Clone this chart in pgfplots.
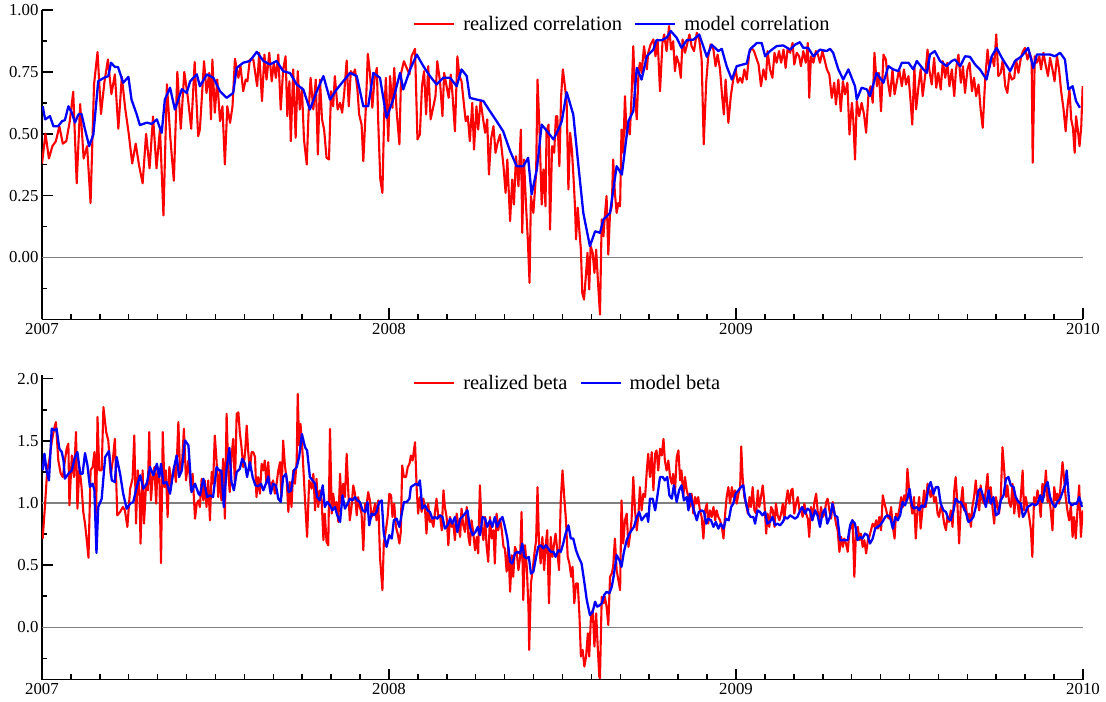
\documentclass[border=0pt]{standalone}
\usepackage{fontspec}
\setmainfont{Liberation Serif}
\usepackage{pgfplots}
\pgfplotsset{compat=1.18}
\pgfplotsset{
  panel/.style={
    scale only axis, width=1041bp,
    xmin=2007, xmax=2010, enlargelimits=false,
    axis x line=bottom, axis y line=left,
    axis line style={-, line width=1.6bp, black},
    tick align=inside, major tick length=11bp, minor tick length=5.5bp,
    tick style={black, line width=1.5bp},
    xtick={2007,2008,2009,2010}, xticklabels={2007,2008,2009,2010},
    minor x tick num=11,
    ticklabel style={font=\fontsize{16.8bp}{18bp}\selectfont},
    legend columns=2,
    legend cell align=left,
    legend image code/.code={\draw[#1] (0bp,0bp) -- (40bp,0bp); \path (48bp,0bp);},
    legend style={draw=none, fill=none, anchor=west, inner sep=0pt,
      nodes={inner sep=0pt},
      font=\fontsize{20.5bp}{22bp}\selectfont,
      /tikz/every even column/.append style={column sep=12bp}},
  },
  rl/.style={red, line width=2.1bp, line join=round},
  bl/.style={blue, line width=2.3bp, line join=round},
  zl/.style={black!50, line width=1.5bp, forget plot},
}
\begin{document}
\begin{tikzpicture}
\useasboundingbox (-42bp,10bp) rectangle (1064bp,-692bp);
\begin{axis}[panel, at={(0bp,0bp)}, anchor=north west, height=309.4bp,
  ymin=-0.25, ymax=1,
  ytick={0,0.25,0.5,0.75,1}, yticklabels={0.00,0.25,0.50,0.75,1.00},
  minor ytick={-0.125,0.125,0.375,0.625,0.875},
  legend style={at={(0.3564,0.9548)}}]
\addplot[zl] coordinates {(2007,0) (2010,0)};
\addplot[rl] coordinates {
(2007.00,0.38)(2007.01,0.50)(2007.02,0.40)(2007.03,0.45)(2007.04,0.47)(2007.05,0.53)(2007.06,0.46)(2007.07,0.47)(2007.08,0.55)(2007.09,0.67)(2007.10,0.30)(2007.11,0.62)(2007.12,0.40)(2007.13,0.45)(2007.14,0.22)(2007.15,0.70)(2007.16,0.83)(2007.17,0.58)(2007.18,0.71)(2007.19,0.80)(2007.20,0.66)(2007.21,0.74)(2007.22,0.52)(2007.23,0.73)(2007.24,0.60)(2007.25,0.50)(2007.26,0.38)(2007.27,0.46)(2007.28,0.37)(2007.29,0.30)(2007.30,0.50)(2007.31,0.36)(2007.32,0.57)(2007.33,0.36)(2007.34,0.52)(2007.35,0.17)(2007.36,0.70)(2007.37,0.48)(2007.38,0.31)(2007.39,0.75)(2007.40,0.52)(2007.41,0.75)(2007.42,0.65)(2007.43,0.52)(2007.44,0.79)(2007.45,0.49)
(2007.455,0.517)(2007.467,0.793)(2007.474,0.665)(2007.482,0.746)(2007.487,0.558)(2007.491,0.800)(2007.498,0.585)(2007.505,0.719)(2007.513,0.551)(2007.520,0.611)(2007.527,0.376)(2007.534,0.611)(2007.542,0.544)(2007.549,0.611)(2007.556,0.803)(2007.566,0.726)(2007.572,0.773)(2007.580,0.672)(2007.587,0.719)(2007.592,0.712)(2007.599,0.800)(2007.609,0.800)(2007.620,0.692)(2007.626,0.827)(2007.634,0.632)(2007.641,0.820)(2007.647,0.719)(2007.655,0.827)(2007.662,0.712)(2007.668,0.787)(2007.674,0.726)(2007.681,0.820)(2007.688,0.598)(2007.695,0.760)(2007.702,0.813)(2007.707,0.571)(2007.713,0.712)(2007.717,0.470)(2007.724,0.760)(2007.731,0.484)(2007.737,0.753)(2007.743,0.598)(2007.749,0.686)(2007.755,0.477)(2007.763,0.376)(2007.768,0.578)(2007.774,0.726)(2007.782,0.598)(2007.789,0.719)(2007.795,0.416)(2007.801,0.719)(2007.807,0.558)(2007.813,0.517)(2007.820,0.403)(2007.827,0.396)(2007.833,0.672)(2007.839,0.611)(2007.844,0.733)(2007.852,0.598)(2007.859,0.625)(2007.865,0.585)(2007.871,0.665)(2007.878,0.796)(2007.884,0.611)(2007.890,0.753)(2007.897,0.739)(2007.902,0.760)(2007.909,0.679)(2007.914,0.578)(2007.921,0.537)(2007.926,0.389)(2007.933,0.598)(2007.939,0.823)(2007.945,0.746)(2007.952,0.605)(2007.958,0.719)(2007.965,0.766)(2007.969,0.544)(2007.975,0.315)(2007.981,0.261)(2007.986,0.571)(2007.991,0.726)(2007.998,0.470)(2008.003,0.733)(2008.010,0.605)(2008.015,0.766)(2008.022,0.591)(2008.030,0.457)(2008.035,0.746)(2008.043,0.793)(2008.051,0.766)(2008.059,0.740)(2008.065,0.813)(2008.075,0.843)(2008.082,0.477)(2008.089,0.497)(2008.095,0.692)(2008.101,0.753)(2008.107,0.578)(2008.113,0.773)(2008.120,0.558)(2008.128,0.611)(2008.134,0.652)(2008.139,0.793)(2008.147,0.712)(2008.154,0.571)(2008.159,0.746)(2008.166,0.692)(2008.172,0.645)(2008.178,0.739)(2008.183,0.659)(2008.190,0.510)(2008.197,0.813)(2008.203,0.733)(2008.209,0.712)(2008.214,0.645)(2008.221,0.551)(2008.227,0.571)(2008.233,0.470)(2008.240,0.625)(2008.245,0.436)(2008.252,0.611)(2008.257,0.517)(2008.264,0.632)(2008.270,0.571)(2008.277,0.504)(2008.283,0.558)(2008.288,0.335)(2008.294,0.477)(2008.301,0.531)(2008.307,0.423)(2008.313,0.463)(2008.320,0.497)(2008.325,0.436)(2008.330,0.369)(2008.336,0.261)(2008.341,0.396)(2008.349,0.147)(2008.355,0.315)(2008.360,0.214)(2008.366,0.409)(2008.373,0.288)(2008.380,0.517)(2008.384,0.100)(2008.389,0.396)(2008.395,0.207)(2008.400,0.073)(2008.405,-0.102)(2008.409,0.248)(2008.416,0.180)(2008.424,0.342)(2008.428,0.719)(2008.433,0.544)(2008.440,0.214)(2008.445,0.356)(2008.451,0.207)(2008.454,0.510)(2008.460,0.537)(2008.464,0.113)(2008.470,0.450)(2008.476,0.423)(2008.481,0.571)(2008.485,0.571)(2008.491,0.369)(2008.496,0.652)(2008.501,0.760)(2008.507,0.692)(2008.512,0.625)(2008.517,0.275)(2008.522,0.504)(2008.527,0.436)(2008.531,0.342)(2008.536,0.207)(2008.539,0.073)(2008.544,0.201)(2008.549,0.100)(2008.553,0.032)(2008.557,-0.143)(2008.562,-0.170)(2008.568,-0.062)(2008.572,0.019)(2008.577,-0.129)(2008.581,0.046)(2008.587,0.019)(2008.592,-0.062)(2008.597,0.032)(2008.603,-0.116)(2008.608,-0.230)
(2008.613,0.154)(2008.618,0.086)(2008.622,0.167)(2008.627,0.248)(2008.632,0.012)(2008.637,0.180)(2008.642,0.207)(2008.646,0.396)(2008.651,0.261)(2008.656,0.180)(2008.661,0.221)(2008.666,0.207)(2008.670,0.517)(2008.675,0.423)(2008.680,0.652)(2008.685,0.490)(2008.690,0.544)(2008.694,0.497)(2008.699,0.652)(2008.704,0.854)(2008.709,0.652)(2008.714,0.558)(2008.719,0.746)(2008.723,0.787)(2008.728,0.746)(2008.735,0.854)(2008.743,0.760)(2008.747,0.827)(2008.754,0.861)(2008.762,0.881)(2008.768,0.813)(2008.774,0.881)(2008.781,0.672)(2008.788,0.867)(2008.793,0.901)(2008.800,0.834)(2008.807,0.935)(2008.813,0.840)(2008.819,0.874)(2008.824,0.753)(2008.829,0.813)(2008.836,0.780)(2008.841,0.726)(2008.846,0.881)(2008.853,0.827)(2008.860,0.867)(2008.866,0.901)(2008.872,0.854)(2008.879,0.834)(2008.887,0.908)(2008.894,0.881)(2008.901,0.800)(2008.907,0.457)(2008.914,0.706)(2008.920,0.813)(2008.927,0.861)(2008.935,0.840)(2008.941,0.773)(2008.947,0.820)(2008.954,0.760)(2008.960,0.652)(2008.965,0.578)(2008.970,0.719)(2008.978,0.544)(2008.985,0.652)(2008.992,0.719)(2008.999,0.760)(2009.005,0.706)(2009.012,0.726)(2009.018,0.706)(2009.024,0.760)(2009.031,0.719)(2009.038,0.827)(2009.045,0.847)(2009.052,0.834)(2009.060,0.800)(2009.065,0.780)(2009.072,0.692)(2009.079,0.760)(2009.086,0.719)(2009.091,0.834)(2009.098,0.760)(2009.105,0.726)(2009.111,0.827)(2009.117,0.787)(2009.124,0.834)(2009.130,0.787)(2009.137,0.840)(2009.143,0.766)(2009.149,0.847)(2009.156,0.827)(2009.163,0.867)(2009.168,0.780)(2009.175,0.827)(2009.182,0.813)(2009.187,0.773)(2009.194,0.834)(2009.201,0.787)(2009.207,0.867)(2009.211,0.645)(2009.216,0.813)(2009.223,0.787)(2009.230,0.834)(2009.236,0.820)(2009.242,0.787)(2009.249,0.834)(2009.255,0.800)(2009.262,0.760)(2009.269,0.739)(2009.276,0.645)(2009.283,0.706)(2009.288,0.618)(2009.295,0.719)(2009.302,0.591)(2009.308,0.712)(2009.314,0.659)(2009.321,0.706)(2009.327,0.497)(2009.334,0.625)(2009.338,0.558)(2009.343,0.396)(2009.348,0.632)(2009.355,0.571)(2009.362,0.625)(2009.369,0.578)(2009.375,0.504)(2009.382,0.665)(2009.388,0.692)(2009.394,0.625)(2009.399,0.827)(2009.406,0.692)(2009.412,0.746)(2009.418,0.591)(2009.425,0.820)(2009.432,0.800)(2009.437,0.719)(2009.444,0.652)(2009.451,0.760)(2009.457,0.659)(2009.463,0.706)(2009.470,0.760)(2009.478,0.692)(2009.484,0.760)(2009.490,0.699)(2009.497,0.733)(2009.502,0.652)(2009.508,0.537)(2009.514,0.773)(2009.519,0.598)(2009.526,0.692)(2009.532,0.760)(2009.538,0.652)(2009.545,0.733)(2009.552,0.840)(2009.557,0.760)(2009.564,0.699)(2009.571,0.807)(2009.577,0.686)(2009.583,0.746)(2009.590,0.679)(2009.596,0.793)(2009.603,0.726)(2009.609,0.787)(2009.615,0.692)(2009.622,0.760)(2009.629,0.652)(2009.634,0.760)(2009.641,0.820)(2009.648,0.706)(2009.654,0.773)(2009.660,0.665)(2009.667,0.760)(2009.673,0.787)(2009.680,0.672)(2009.686,0.726)(2009.692,0.652)(2009.699,0.699)(2009.705,0.598)(2009.711,0.524)(2009.718,0.719)(2009.725,0.840)(2009.730,0.766)(2009.737,0.813)(2009.744,0.773)(2009.750,0.901)(2009.756,0.733)(2009.763,0.746)(2009.769,0.800)(2009.776,0.692)(2009.782,0.665)(2009.788,0.746)(2009.795,0.719)(2009.802,0.726)(2009.807,0.800)(2009.814,0.746)(2009.821,0.807)(2009.827,0.834)(2009.833,0.847)(2009.840,0.800)(2009.846,0.827)(2009.852,0.800)(2009.855,0.383)(2009.861,0.813)(2009.867,0.787)(2009.874,0.813)(2009.879,0.760)(2009.886,0.827)(2009.893,0.773)(2009.899,0.733)(2009.905,0.807)(2009.912,0.760)(2009.918,0.712)(2009.925,0.813)(2009.931,0.760)(2009.937,0.672)(2009.944,0.598)(2009.950,0.510)(2009.955,0.605)(2009.961,0.679)(2009.966,0.558)(2009.971,0.524)(2009.976,0.423)(2009.980,0.571)(2009.985,0.517)(2009.990,0.450)(2009.995,0.531)(2009.999,0.692)
};
\addlegendentry{realized correlation}
\addplot[bl] coordinates {
(2007.002,0.611)(2007.009,0.558)(2007.023,0.571)(2007.033,0.530)(2007.046,0.530)(2007.058,0.551)(2007.066,0.555)(2007.076,0.611)(2007.086,0.585)(2007.095,0.545)(2007.105,0.578)(2007.114,0.580)(2007.124,0.517)(2007.136,0.450)(2007.148,0.497)(2007.162,0.712)(2007.177,0.725)(2007.191,0.733)(2007.199,0.787)(2007.210,0.770)(2007.219,0.770)(2007.234,0.706)(2007.249,0.730)(2007.258,0.638)(2007.273,0.578)(2007.282,0.535)(2007.302,0.545)(2007.316,0.540)(2007.331,0.558)(2007.345,0.504)(2007.354,0.638)(2007.369,0.686)(2007.383,0.598)(2007.403,0.680)(2007.417,0.665)(2007.427,0.712)(2007.446,0.740)(2007.455,0.692)(2007.475,0.740)(2007.494,0.726)(2007.513,0.672)(2007.532,0.645)(2007.551,0.665)(2007.561,0.766)(2007.580,0.787)(2007.599,0.794)(2007.619,0.831)(2007.638,0.794)(2007.657,0.780)(2007.676,0.794)(2007.695,0.753)(2007.715,0.745)(2007.734,0.699)(2007.753,0.679)(2007.772,0.598)(2007.792,0.672)(2007.811,0.733)(2007.830,0.638)(2007.849,0.679)(2007.868,0.712)(2007.888,0.746)(2007.907,0.733)(2007.926,0.611)(2007.940,0.611)(2007.955,0.746)(2007.974,0.726)(2007.993,0.564)(2008.012,0.638)(2008.032,0.746)(2008.041,0.679)(2008.061,0.760)(2008.080,0.820)(2008.099,0.773)(2008.118,0.733)(2008.137,0.699)(2008.156,0.726)(2008.176,0.726)(2008.195,0.692)(2008.209,0.760)(2008.224,0.733)(2008.233,0.645)(2008.253,0.638)(2008.272,0.632)(2008.291,0.591)(2008.310,0.551)(2008.329,0.510)(2008.349,0.430)(2008.368,0.369)(2008.387,0.369)(2008.401,0.403)(2008.411,0.255)(2008.426,0.356)(2008.440,0.537)(2008.459,0.504)(2008.474,0.477)(2008.488,0.517)(2008.498,0.551)(2008.512,0.668)(2008.531,0.578)(2008.546,0.369)(2008.560,0.180)(2008.579,0.046)(2008.594,0.106)(2008.608,0.100)(2008.618,0.154)(2008.637,0.180)(2008.656,0.369)(2008.671,0.335)(2008.680,0.436)(2008.690,0.551)(2008.704,0.591)(2008.714,0.766)(2008.728,0.719)(2008.743,0.813)(2008.762,0.840)(2008.771,0.878)(2008.786,0.878)(2008.800,0.888)(2008.812,0.915)(2008.829,0.888)(2008.843,0.847)(2008.858,0.878)(2008.877,0.880)(2008.894,0.901)(2008.916,0.811)(2008.930,0.860)(2008.949,0.834)(2008.959,0.843)(2008.973,0.773)(2008.988,0.719)(2009.002,0.773)(2009.031,0.784)(2009.040,0.840)(2009.060,0.867)(2009.074,0.867)(2009.084,0.813)(2009.098,0.834)(2009.117,0.854)(2009.136,0.857)(2009.156,0.840)(2009.170,0.860)(2009.184,0.870)(2009.194,0.847)(2009.208,0.847)(2009.223,0.813)(2009.242,0.840)(2009.261,0.834)(2009.271,0.843)(2009.280,0.827)(2009.295,0.760)(2009.309,0.719)(2009.324,0.760)(2009.343,0.692)(2009.348,0.638)(2009.362,0.686)(2009.377,0.679)(2009.386,0.652)(2009.405,0.746)(2009.425,0.706)(2009.439,0.773)(2009.453,0.760)(2009.468,0.753)(2009.478,0.787)(2009.497,0.787)(2009.511,0.760)(2009.521,0.794)(2009.540,0.760)(2009.550,0.746)(2009.559,0.820)(2009.573,0.834)(2009.588,0.794)(2009.607,0.773)(2009.622,0.794)(2009.631,0.800)(2009.646,0.773)(2009.660,0.813)(2009.674,0.811)(2009.689,0.780)(2009.703,0.760)(2009.722,0.719)(2009.737,0.813)(2009.751,0.847)(2009.766,0.807)(2009.790,0.753)(2009.804,0.794)(2009.823,0.813)(2009.842,0.847)(2009.857,0.766)(2009.867,0.820)(2009.886,0.820)(2009.905,0.820)(2009.919,0.813)(2009.934,0.827)(2009.948,0.800)(2009.958,0.679)(2009.970,0.692)(2009.980,0.632)(2009.991,0.605)
};
\addlegendentry{model correlation}
\end{axis}
\begin{axis}[panel, at={(0bp,-365bp)}, anchor=north west, height=304.5bp,
  ymin=-0.42, ymax=2.03,
  ytick={0,0.5,1,1.5,2}, yticklabels={0.0,0.5,1.0,1.5,2.0},
  minor ytick={-0.25,0.25,0.75,1.25,1.75},
  legend style={at={(0.3564,0.9727)}}]
\addplot[zl] coordinates {(2007,0) (2010,0)};
\addplot[zl] coordinates {(2007,1) (2010,1)};
\addplot[rl] coordinates {
(2007.002,0.713)(2007.009,0.995)(2007.015,1.263)(2007.021,1.343)(2007.028,1.491)(2007.035,1.598)(2007.040,1.651)(2007.047,1.343)(2007.054,1.236)(2007.060,1.209)(2007.066,1.343)(2007.071,1.437)(2007.076,1.477)(2007.079,0.981)(2007.086,1.383)(2007.092,1.209)(2007.098,1.571)(2007.102,0.954)(2007.108,1.290)(2007.114,1.129)(2007.119,0.928)(2007.124,0.834)(2007.129,0.700)(2007.134,0.560)(2007.140,1.263)(2007.146,1.290)(2007.151,1.410)(2007.156,0.914)(2007.160,1.692)(2007.165,1.263)(2007.172,1.263)(2007.177,1.772)(2007.185,1.571)(2007.191,1.504)(2007.198,1.223)(2007.204,1.343)(2007.210,1.517)(2007.217,0.901)(2007.225,0.928)(2007.233,0.968)(2007.239,0.941)(2007.246,0.807)(2007.254,1.115)(2007.261,1.196)(2007.266,1.544)(2007.271,0.834)(2007.276,1.263)(2007.281,1.075)(2007.284,0.673)(2007.290,1.263)(2007.294,0.834)(2007.300,1.156)(2007.305,1.102)(2007.309,1.571)(2007.314,1.021)(2007.319,1.209)(2007.324,1.290)(2007.329,0.995)(2007.333,1.290)(2007.338,1.263)(2007.343,0.517)(2007.348,1.571)(2007.353,1.129)(2007.357,1.263)(2007.362,0.887)(2007.367,1.290)(2007.372,1.156)(2007.377,1.236)(2007.381,1.290)(2007.386,1.169)(2007.393,1.651)(2007.398,1.236)(2007.404,1.343)(2007.409,1.598)(2007.415,1.182)(2007.422,1.343)(2007.429,1.102)(2007.434,1.236)(2007.441,0.874)(2007.446,0.995)(2007.451,1.021)
(2007.455,0.968)(2007.460,1.195)(2007.465,1.021)(2007.469,1.182)(2007.474,0.968)(2007.479,1.182)(2007.484,0.861)(2007.489,1.249)(2007.493,1.155)(2007.498,1.543)(2007.503,1.342)(2007.508,1.048)(2007.513,1.262)(2007.517,1.021)(2007.522,1.356)(2007.527,0.874)(2007.532,1.717)(2007.537,1.235)(2007.541,1.088)(2007.546,1.369)(2007.551,1.516)(2007.556,1.142)(2007.561,1.717)(2007.566,1.730)(2007.570,1.570)(2007.575,1.449)(2007.580,1.289)(2007.585,1.396)(2007.590,1.623)(2007.594,1.423)(2007.599,1.262)(2007.604,1.409)(2007.609,1.409)(2007.614,1.369)(2007.618,1.048)(2007.623,1.209)(2007.628,1.075)(2007.633,1.316)(2007.638,1.262)(2007.642,1.342)(2007.647,1.155)(2007.652,1.329)(2007.657,1.102)(2007.662,1.155)(2007.666,1.182)(2007.671,1.075)(2007.676,1.155)(2007.681,1.262)(2007.686,1.329)(2007.690,1.048)(2007.695,1.503)(2007.700,1.302)(2007.705,1.195)(2007.710,0.928)(2007.714,1.169)(2007.719,0.968)(2007.724,1.262)(2007.729,1.155)(2007.734,1.342)(2007.737,1.877)(2007.741,1.463)(2007.745,1.637)(2007.751,1.396)(2007.758,1.021)(2007.764,0.727)(2007.770,1.182)(2007.777,1.115)(2007.782,1.235)(2007.787,0.941)(2007.791,1.195)(2007.796,0.968)(2007.801,1.102)(2007.806,1.021)(2007.811,0.701)(2007.815,0.915)(2007.820,0.687)(2007.825,0.660)(2007.830,1.596)(2007.835,0.915)(2007.839,1.075)(2007.844,0.968)(2007.849,1.008)(2007.854,0.848)(2007.859,1.235)(2007.863,0.995)(2007.868,1.155)(2007.873,1.048)(2007.878,1.396)(2007.883,1.075)(2007.887,0.861)(2007.892,0.968)(2007.897,1.142)(2007.902,1.075)(2007.907,0.901)(2007.911,1.048)(2007.916,0.968)(2007.921,0.915)(2007.926,0.620)(2007.931,0.995)(2007.936,0.995)(2007.940,1.088)(2007.945,1.021)(2007.950,0.888)(2007.955,0.928)(2007.960,0.995)(2007.964,0.861)(2007.969,1.021)(2007.974,0.567)(2007.981,0.299)(2007.985,0.674)(2007.991,0.781)(2007.996,0.888)(2008.001,1.075)(2008.006,1.062)(2008.010,0.888)(2008.015,0.995)(2008.020,0.808)(2008.025,0.754)(2008.030,0.674)(2008.034,0.767)(2008.038,1.302)(2008.043,1.209)(2008.049,1.209)(2008.054,1.289)(2008.059,1.316)(2008.063,1.382)(2008.068,1.342)(2008.075,1.489)(2008.080,1.102)(2008.084,0.915)(2008.089,1.048)(2008.094,0.928)(2008.099,1.035)(2008.104,0.941)(2008.108,0.754)(2008.113,0.995)(2008.118,0.848)(2008.123,0.861)(2008.128,0.808)(2008.133,0.941)(2008.137,1.035)(2008.142,0.888)(2008.147,0.901)(2008.152,0.781)(2008.157,1.102)(2008.161,0.968)(2008.166,0.888)(2008.171,0.660)(2008.176,0.888)(2008.181,0.808)(2008.185,0.848)(2008.190,0.701)(2008.195,0.915)(2008.200,0.821)(2008.205,0.727)(2008.209,0.955)(2008.214,0.821)(2008.219,0.767)(2008.224,0.968)(2008.229,0.727)(2008.233,0.660)(2008.238,0.861)(2008.243,0.754)(2008.248,0.620)(2008.253,0.727)(2008.257,0.594)(2008.262,1.142)(2008.267,0.808)(2008.272,0.701)(2008.277,0.888)(2008.281,0.660)(2008.286,0.527)(2008.291,0.888)(2008.296,0.714)(2008.301,0.781)(2008.305,0.513)(2008.310,0.915)(2008.315,0.781)(2008.320,0.874)(2008.325,0.781)(2008.330,0.647)(2008.334,0.634)(2008.339,0.447)(2008.344,0.647)(2008.349,0.286)(2008.354,0.580)(2008.358,0.406)(2008.363,0.647)(2008.368,0.607)(2008.373,0.460)(2008.378,0.567)(2008.382,0.928)(2008.387,0.219)(2008.392,0.660)(2008.397,0.487)(2008.402,0.152)(2008.404,-0.182)(2008.409,0.353)(2008.414,0.460)(2008.419,0.594)(2008.424,0.701)(2008.428,1.128)(2008.432,0.701)(2008.437,0.513)(2008.442,0.727)(2008.447,0.460)(2008.452,0.674)(2008.456,0.781)(2008.461,0.193)(2008.466,0.727)(2008.471,0.567)(2008.476,0.674)(2008.480,0.754)(2008.485,0.620)(2008.490,0.460)(2008.495,1.021)(2008.500,1.262)(2008.505,1.048)(2008.510,0.861)(2008.515,0.567)(2008.520,0.513)(2008.525,0.406)(2008.529,0.487)(2008.534,0.193)(2008.539,0.353)(2008.544,0.353)(2008.549,0.086)(2008.553,-0.235)(2008.558,-0.182)(2008.563,-0.316)(2008.568,-0.235)(2008.573,-0.048)(2008.577,-0.235)(2008.582,0.086)(2008.587,0.139)(2008.592,-0.155)(2008.597,0.112)(2008.601,-0.128)(2008.606,-0.396)
(2008.608,-0.410)(2008.613,0.246)(2008.618,0.193)(2008.622,0.246)(2008.627,0.166)(2008.632,0.019)(2008.637,0.406)(2008.642,0.433)(2008.646,0.487)(2008.651,0.714)(2008.656,0.460)(2008.661,0.380)(2008.666,0.299)(2008.670,1.021)(2008.675,0.674)(2008.680,0.861)(2008.685,0.915)(2008.690,0.647)(2008.694,0.727)(2008.699,0.861)(2008.704,1.209)(2008.709,0.941)(2008.714,0.781)(2008.719,0.915)(2008.723,1.128)(2008.728,0.941)(2008.733,1.075)(2008.738,1.048)(2008.743,1.262)(2008.747,1.396)(2008.752,1.209)(2008.757,1.409)(2008.762,1.102)(2008.767,1.396)(2008.771,1.423)(2008.776,1.262)(2008.781,1.436)(2008.786,1.382)(2008.791,1.516)(2008.795,1.342)(2008.800,1.262)(2008.805,1.342)(2008.810,1.209)(2008.815,1.155)(2008.819,1.235)(2008.824,1.075)(2008.829,1.369)(2008.834,1.423)(2008.839,1.182)(2008.843,1.262)(2008.848,1.048)(2008.853,1.209)(2008.858,1.102)(2008.863,1.048)(2008.867,0.968)(2008.872,1.075)(2008.877,0.915)(2008.882,1.048)(2008.887,0.995)(2008.891,1.048)(2008.896,0.941)(2008.901,0.888)(2008.906,0.714)(2008.911,0.941)(2008.916,0.995)(2008.920,0.834)(2008.925,0.941)(2008.930,0.888)(2008.935,0.968)(2008.940,0.861)(2008.944,0.941)(2008.949,0.888)(2008.954,0.861)(2008.959,0.808)(2008.964,0.714)(2008.968,0.888)(2008.973,1.048)(2008.978,1.128)(2008.983,0.995)(2008.988,1.128)(2008.992,1.048)(2008.997,1.102)(2009.002,0.995)(2009.007,1.075)(2009.012,1.128)(2009.015,1.455)(2009.019,1.209)(2009.024,1.048)(2009.029,0.995)(2009.034,0.915)(2009.039,1.048)(2009.043,0.968)(2009.048,1.128)(2009.053,0.941)(2009.058,0.915)(2009.063,1.102)(2009.067,0.968)(2009.072,1.048)(2009.077,1.142)(2009.082,0.995)(2009.087,0.754)(2009.091,0.915)(2009.096,0.808)(2009.101,0.968)(2009.106,0.941)(2009.111,0.808)(2009.115,0.995)(2009.120,0.901)(2009.125,0.861)(2009.130,0.915)(2009.135,0.995)(2009.139,0.861)(2009.144,1.008)(2009.149,1.102)(2009.154,0.995)(2009.159,1.102)(2009.163,1.115)(2009.168,0.915)(2009.173,0.995)(2009.178,1.048)(2009.183,0.941)(2009.187,0.955)(2009.192,0.888)(2009.197,0.995)(2009.202,0.915)(2009.207,0.874)(2009.211,0.727)(2009.216,0.968)(2009.221,0.874)(2009.226,1.008)(2009.231,1.075)(2009.236,0.915)(2009.240,0.861)(2009.245,0.968)(2009.250,0.888)(2009.255,0.915)(2009.260,1.008)(2009.264,1.035)(2009.269,0.941)(2009.274,0.874)(2009.279,1.008)(2009.284,0.915)(2009.288,0.834)(2009.293,0.781)(2009.298,0.607)(2009.303,0.727)(2009.308,0.647)(2009.312,0.714)(2009.317,0.674)(2009.322,0.607)(2009.327,0.781)(2009.332,0.808)(2009.336,0.861)(2009.341,0.406)(2009.346,0.781)(2009.351,0.808)(2009.356,0.701)(2009.360,0.754)(2009.365,0.647)(2009.370,0.701)(2009.375,0.594)(2009.380,0.701)(2009.384,0.727)(2009.389,0.781)(2009.394,0.834)(2009.399,0.808)(2009.404,0.861)(2009.409,0.794)(2009.413,0.888)(2009.418,0.781)(2009.423,1.062)(2009.428,0.995)(2009.433,0.941)(2009.437,0.888)(2009.442,0.874)(2009.447,0.968)(2009.452,0.808)(2009.457,0.714)(2009.461,0.915)(2009.466,0.888)(2009.471,0.955)(2009.476,1.048)(2009.481,0.968)(2009.485,1.062)(2009.490,1.021)(2009.494,1.275)(2009.499,1.102)(2009.504,0.995)(2009.508,0.915)(2009.513,1.048)(2009.518,0.714)(2009.523,0.941)(2009.528,1.048)(2009.532,0.794)(2009.537,0.941)(2009.542,1.102)(2009.547,0.968)(2009.552,1.155)(2009.557,1.102)(2009.561,1.048)(2009.566,1.128)(2009.571,1.008)(2009.576,1.048)(2009.581,0.915)(2009.585,0.888)(2009.590,0.968)(2009.595,0.928)(2009.600,0.834)(2009.605,0.781)(2009.609,0.888)(2009.614,0.848)(2009.619,0.941)(2009.624,0.808)(2009.629,1.102)(2009.633,1.209)(2009.638,0.995)(2009.643,0.674)(2009.648,0.995)(2009.653,1.128)(2009.657,0.941)(2009.662,0.995)(2009.667,0.861)(2009.672,0.915)(2009.677,0.808)(2009.681,0.968)(2009.686,1.048)(2009.691,1.182)(2009.696,1.021)(2009.701,0.941)(2009.705,1.142)(2009.710,1.021)(2009.715,0.995)(2009.720,1.102)(2009.725,1.235)(2009.729,1.008)(2009.734,1.128)(2009.739,0.968)(2009.744,0.834)(2009.749,1.048)(2009.754,0.968)(2009.758,0.915)(2009.763,1.048)(2009.768,1.449)(2009.773,1.262)(2009.778,1.048)(2009.782,1.142)(2009.787,1.008)(2009.792,0.968)(2009.797,1.155)(2009.802,0.915)(2009.806,1.048)(2009.811,1.008)(2009.816,0.888)(2009.821,1.062)(2009.826,1.262)(2009.830,0.941)(2009.835,1.048)(2009.840,0.968)(2009.845,0.888)(2009.850,0.781)(2009.854,0.567)(2009.859,1.048)(2009.864,0.995)(2009.869,1.102)(2009.874,1.021)(2009.878,0.888)(2009.883,1.155)(2009.888,1.048)(2009.893,1.262)(2009.898,1.008)(2009.902,1.075)(2009.907,0.941)(2009.912,0.781)(2009.917,1.128)(2009.922,1.021)(2009.926,1.075)(2009.931,0.995)(2009.936,1.155)(2009.941,1.329)(2009.946,1.182)(2009.950,1.048)(2009.955,0.941)(2009.960,0.861)(2009.965,0.981)(2009.970,0.727)(2009.974,0.888)(2009.979,0.714)(2009.984,0.941)(2009.989,1.142)(2009.994,0.727)(2009.999,0.941)
};
\addlegendentry{realized beta}
\addplot[bl] coordinates {
(2007.002,1.263)(2007.007,1.397)(2007.013,1.263)(2007.020,1.182)(2007.028,1.598)(2007.036,1.584)(2007.042,1.598)(2007.050,1.437)(2007.057,1.410)(2007.062,1.343)(2007.066,1.196)(2007.076,1.236)(2007.086,1.263)(2007.095,1.370)(2007.102,1.410)(2007.110,1.236)(2007.117,1.236)(2007.124,1.402)(2007.131,1.303)(2007.138,1.129)(2007.146,1.156)(2007.151,1.102)(2007.157,0.598)(2007.162,0.968)(2007.172,1.035)(2007.182,1.370)(2007.193,1.418)(2007.201,1.182)(2007.210,1.169)(2007.215,1.370)(2007.225,1.236)(2007.234,1.075)(2007.244,0.954)(2007.254,0.995)(2007.263,1.008)(2007.273,1.129)(2007.283,1.223)(2007.292,1.115)(2007.302,1.156)(2007.311,1.290)(2007.321,1.223)(2007.331,1.316)(2007.338,1.209)(2007.343,1.316)(2007.350,1.156)(2007.359,1.169)(2007.369,1.075)(2007.379,1.263)(2007.388,1.383)(2007.395,1.209)(2007.403,1.263)(2007.412,1.504)(2007.422,1.464)(2007.431,1.088)(2007.441,1.156)(2007.451,1.075)
(2007.455,1.062)(2007.465,1.195)(2007.476,1.048)(2007.484,1.062)(2007.493,1.048)(2007.503,1.289)(2007.511,1.262)(2007.517,1.262)(2007.524,0.968)(2007.532,1.275)(2007.540,1.444)(2007.546,1.169)(2007.553,1.102)(2007.561,1.249)(2007.570,1.275)(2007.577,1.356)(2007.585,1.316)(2007.591,1.209)(2007.599,1.329)(2007.607,1.209)(2007.615,1.142)(2007.623,1.134)(2007.631,1.155)(2007.638,1.102)(2007.645,1.155)(2007.652,1.214)(2007.659,1.075)(2007.666,1.155)(2007.674,1.142)(2007.681,1.035)(2007.688,1.008)(2007.695,1.209)(2007.703,1.235)(2007.711,1.088)(2007.718,1.102)(2007.726,1.262)(2007.734,1.289)(2007.741,1.369)(2007.749,1.556)(2007.758,1.449)(2007.764,1.423)(2007.772,1.209)(2007.780,1.182)(2007.787,1.155)(2007.793,1.048)(2007.801,1.021)(2007.809,1.142)(2007.815,0.968)(2007.822,1.008)(2007.830,0.981)(2007.837,0.941)(2007.844,0.968)(2007.851,0.901)(2007.859,0.848)(2007.866,1.062)(2007.873,0.955)(2007.881,0.995)(2007.887,1.035)(2007.895,1.021)(2007.902,1.048)(2007.909,1.021)(2007.916,1.008)(2007.924,0.941)(2007.932,0.928)(2007.938,1.008)(2007.943,0.821)(2007.950,0.915)(2007.957,0.901)(2007.964,0.928)(2007.972,1.008)(2007.979,1.021)(2007.985,0.754)(2007.993,0.647)(2008.001,0.741)(2008.008,0.714)(2008.014,0.861)(2008.022,0.874)(2008.030,0.808)(2008.036,0.901)(2008.043,1.008)(2008.051,1.008)(2008.059,1.035)(2008.063,1.128)(2008.070,1.142)(2008.078,1.155)(2008.084,1.142)(2008.089,1.182)(2008.096,0.955)(2008.104,0.981)(2008.111,0.941)(2008.118,0.928)(2008.125,0.874)(2008.133,0.888)(2008.139,0.874)(2008.147,0.901)(2008.154,0.888)(2008.161,0.794)(2008.169,0.821)(2008.176,0.874)(2008.182,0.834)(2008.190,0.888)(2008.197,0.767)(2008.205,0.874)(2008.211,0.888)(2008.219,0.915)(2008.226,0.941)(2008.233,0.808)(2008.241,0.741)(2008.249,0.767)(2008.256,0.808)(2008.262,0.741)(2008.270,0.888)(2008.277,0.874)(2008.283,0.808)(2008.291,0.861)(2008.298,0.808)(2008.305,0.888)(2008.312,0.808)(2008.320,0.861)(2008.327,0.888)(2008.334,0.808)(2008.341,0.714)(2008.349,0.527)(2008.355,0.513)(2008.363,0.594)(2008.370,0.607)(2008.378,0.594)(2008.384,0.674)(2008.390,0.567)(2008.397,0.554)(2008.403,0.567)(2008.409,0.433)(2008.416,0.447)(2008.424,0.567)(2008.430,0.647)(2008.437,0.660)(2008.445,0.634)(2008.452,0.660)(2008.459,0.634)(2008.466,0.607)(2008.474,0.607)(2008.480,0.567)(2008.488,0.620)(2008.495,0.607)(2008.502,0.674)(2008.509,0.754)(2008.517,0.821)(2008.524,0.714)(2008.531,0.714)(2008.539,0.620)(2008.546,0.567)(2008.555,0.513)(2008.562,0.380)(2008.570,0.219)(2008.579,0.099)(2008.587,0.126)(2008.594,0.206)(2008.600,0.166)(2008.608,0.179)
(2008.613,0.193)(2008.620,0.259)(2008.627,0.286)(2008.635,0.273)(2008.642,0.326)(2008.648,0.420)(2008.656,0.580)(2008.664,0.540)(2008.670,0.487)(2008.677,0.607)(2008.685,0.701)(2008.693,0.754)(2008.699,0.781)(2008.706,0.808)(2008.714,0.888)(2008.721,0.928)(2008.728,0.861)(2008.735,0.888)(2008.743,0.915)(2008.747,0.848)(2008.752,1.035)(2008.760,1.035)(2008.767,0.941)(2008.773,1.048)(2008.781,1.209)(2008.789,1.209)(2008.795,1.182)(2008.802,1.209)(2008.808,1.062)(2008.815,1.035)(2008.821,1.142)(2008.829,1.008)(2008.836,1.102)(2008.843,1.142)(2008.850,1.021)(2008.858,1.048)(2008.863,0.941)(2008.867,1.075)(2008.874,0.995)(2008.880,0.928)(2008.887,0.861)(2008.893,0.928)(2008.901,0.941)(2008.908,0.928)(2008.914,0.834)(2008.920,0.874)(2008.928,0.861)(2008.935,0.808)(2008.942,0.848)(2008.949,0.794)(2008.956,0.834)(2008.964,0.794)(2008.971,0.874)(2008.979,0.861)(2008.986,0.968)(2008.992,0.995)(2008.999,1.075)(2009.007,1.102)(2009.014,1.128)(2009.021,1.142)(2009.028,1.008)(2009.036,0.915)(2009.042,0.888)(2009.050,0.888)(2009.055,0.834)(2009.062,0.941)(2009.069,0.928)(2009.076,0.901)(2009.084,0.928)(2009.090,0.834)(2009.098,0.848)(2009.105,0.888)(2009.113,0.821)(2009.119,0.834)(2009.127,0.821)(2009.135,0.848)(2009.141,0.888)(2009.148,0.874)(2009.156,0.901)(2009.163,0.888)(2009.170,0.874)(2009.177,0.888)(2009.185,0.941)(2009.191,0.968)(2009.199,0.915)(2009.206,0.955)(2009.213,0.941)(2009.220,0.861)(2009.228,0.941)(2009.235,0.901)(2009.242,0.808)(2009.249,0.915)(2009.257,0.955)(2009.263,0.834)(2009.271,0.888)(2009.278,0.995)(2009.285,0.901)(2009.292,0.888)(2009.300,0.701)(2009.308,0.701)(2009.314,0.701)(2009.322,0.701)(2009.329,0.821)(2009.335,0.861)(2009.343,0.834)(2009.350,0.701)(2009.358,0.727)(2009.364,0.714)(2009.372,0.754)(2009.379,0.741)(2009.386,0.674)(2009.394,0.714)(2009.401,0.794)(2009.408,0.808)(2009.415,0.821)(2009.422,0.848)(2009.430,0.888)(2009.436,0.901)(2009.444,0.888)(2009.452,0.794)(2009.459,0.888)(2009.466,0.861)(2009.473,0.901)(2009.480,1.008)(2009.487,0.981)(2009.494,1.035)(2009.500,1.115)(2009.507,0.981)(2009.513,0.955)(2009.521,0.968)(2009.528,0.941)(2009.535,0.981)(2009.542,0.968)(2009.548,1.008)(2009.555,1.128)(2009.561,1.169)(2009.569,1.075)(2009.576,1.128)(2009.583,1.128)(2009.590,0.995)(2009.598,0.941)(2009.605,0.928)(2009.612,0.874)(2009.619,0.861)(2009.627,0.941)(2009.633,1.035)(2009.641,1.008)(2009.648,1.008)(2009.655,0.968)(2009.662,0.928)(2009.670,0.848)(2009.677,0.861)(2009.684,0.888)(2009.691,0.968)(2009.699,1.102)(2009.705,1.115)(2009.713,1.048)(2009.720,0.968)(2009.728,1.102)(2009.734,0.995)(2009.742,1.048)(2009.749,0.901)(2009.756,0.915)(2009.763,1.021)(2009.771,1.062)(2009.778,1.195)(2009.785,1.209)(2009.792,1.142)(2009.800,1.128)(2009.806,1.048)(2009.814,1.008)(2009.821,0.995)(2009.827,0.888)(2009.833,0.915)(2009.840,0.968)(2009.848,0.981)(2009.854,0.995)(2009.862,0.981)(2009.869,0.995)(2009.877,1.062)(2009.883,1.008)(2009.891,1.128)(2009.898,1.169)(2009.905,1.048)(2009.912,0.995)(2009.920,0.968)(2009.926,1.008)(2009.934,1.035)(2009.941,1.088)(2009.949,1.155)(2009.953,1.262)(2009.960,1.008)(2009.968,0.981)(2009.975,0.995)(2009.982,0.995)(2009.989,1.048)(2009.997,0.968)
};
\addlegendentry{model beta}
\end{axis}
\end{tikzpicture}
\end{document}
